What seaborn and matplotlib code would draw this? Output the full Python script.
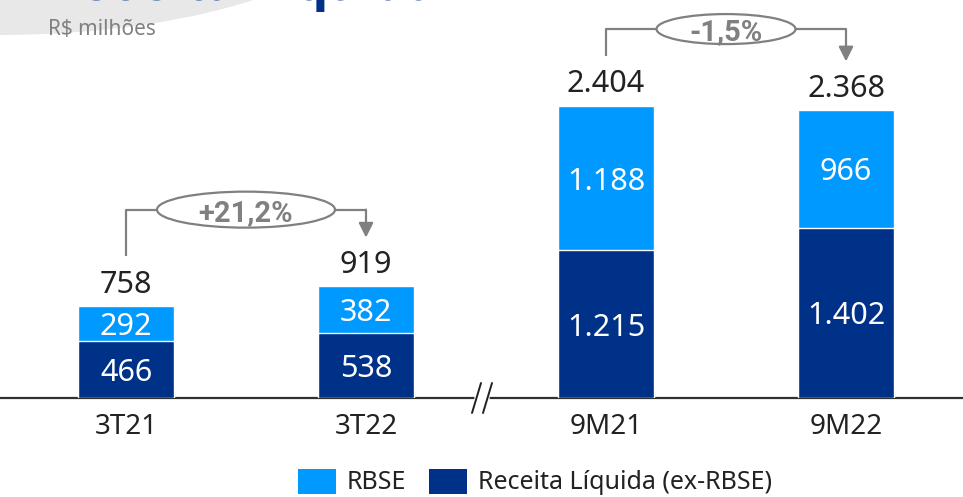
import matplotlib
matplotlib.use("Agg")
import matplotlib.pyplot as plt
import seaborn as sns
import pandas as pd
from matplotlib.patches import Ellipse, Patch

# ---------------- data ----------------
categories = ["3T21", "3T22", "9M21", "9M22"]
receita_ex_rbse = [466, 538, 1215, 1402]
rbse = [292, 382, 1188, 966]
totals = [758, 919, 2404, 2368]
total_labels = ["758", "919", "2.404", "2.368"]
rbse_labels = ["292", "382", "1.188", "966"]
receita_labels = ["466", "538", "1.215", "1.402"]
growth_pairs = [(0, 1), (2, 3)]
growth_labels = ["+21,2%", "-1,5%"]
legend_labels = ["RBSE", "Receita Líquida (ex-RBSE)"]
title_text = "Receita Líquida"
subtitle_text = "R$ milhões"

# ---------------- style ----------------
LIGHT = "#0099FF"
DARK = "#003189"
GREY = "#808080"
TXT = "#222222"
BOLD_FAMILY = ["Roboto", "Open Sans", "DejaVu Sans"]

sns.set_theme(style="white")
plt.rcParams["font.family"] = ["Noto Sans", "DejaVu Sans"]

df = pd.DataFrame({"cat": categories, "base": receita_ex_rbse,
                   "top": rbse, "total": totals})

W, H = 963, 497
fig = plt.figure(figsize=(W / 100, H / 100), dpi=100)
fig.patch.set_facecolor("white")

# background swoosh and cut title
fig.add_artist(Ellipse((0, 1 + 100 / H), 2 * 377 / W, 2 * 135 / H,
                       transform=fig.transFigure, facecolor="#e8e8e8",
                       edgecolor="none", zorder=0))
title = fig.text(43 / W, 1 - 0.5 / H, title_text, fontsize=30,
                 fontweight="bold", family=BOLD_FAMILY,
                 color="#003189", va="baseline", ha="left", zorder=1)
# fit title width to ~394 px
renderer = fig.canvas.get_renderer()
tw = title.get_window_extent(renderer).width
title.set_fontsize(30 * 394 / tw)
fig.text(48 / W, 1 - 35 / H, subtitle_text, fontsize=15, color=GREY,
         va="baseline", ha="left", zorder=1)

ax = fig.add_axes([0, 99 / H, 1, 398 / H])
ax.set_facecolor("none")

sns.barplot(data=df, x="cat", y="total", color=LIGHT, width=0.4,
            saturation=1, errorbar=None, ax=ax, zorder=2)
sns.barplot(data=df, x="cat", y="base", color=DARK, width=0.4,
            saturation=1, errorbar=None, ax=ax, zorder=3)

px_per_unit = 0.1216
ax.set_xlim(-126 / 240, (W - 126) / 240)
ax.set_ylim(0, 398 / px_per_unit)

for i in range(len(categories)):
    b = receita_ex_rbse[i]
    t = totals[i]
    ax.text(i, b / 2, receita_labels[i], ha="center", va="center_baseline",
            color="white", fontsize=22, zorder=4)
    ax.text(i, b + rbse[i] / 2, rbse_labels[i], ha="center",
            va="center_baseline", color="white", fontsize=22, zorder=4)
    ax.annotate(total_labels[i], (i, t), xytext=(0, 9.5),
                textcoords="offset points", ha="center", va="baseline",
                color=TXT, fontsize=22, zorder=4)

# growth brackets
ell_sizes = [(178, 36), (139, 30)]
for (a, b), lab, (ew, eh) in zip(growth_pairs, growth_labels, ell_sizes):
    y_start = totals[a] + 410
    y_br = max(totals[a], totals[b]) + 630
    y_tip = totals[b] + 400
    ax.plot([a, a, b, b], [y_start, y_br, y_br, y_br], color=GREY, lw=1.6,
            solid_capstyle="butt", zorder=5)
    ax.annotate("", xy=(b, y_tip), xytext=(b, y_br),
                arrowprops=dict(arrowstyle="-|>", color=GREY, lw=1.6,
                                mutation_scale=22, shrinkA=0, shrinkB=0),
                zorder=5)
    cx = (a + b) / 2
    ax.add_patch(Ellipse((cx, y_br), ew / 240, eh / px_per_unit,
                         facecolor="white", edgecolor=GREY, lw=1.6, zorder=6))
    ax.text(cx, y_br, lab, ha="center", va="center_baseline", color=GREY,
            fontsize=21, fontweight="bold", family=BOLD_FAMILY, zorder=7)

# axes styling
for s in ["top", "left", "right"]:
    ax.spines[s].set_visible(False)
ax.spines["bottom"].set_color("#303030")
ax.spines["bottom"].set_linewidth(1.6)
ax.set_yticks([])
ax.set_xlabel("")
ax.set_ylabel("")
ax.tick_params(axis="x", length=0, pad=11, labelsize=20, labelcolor=TXT)

# axis break mark
bx = (482 - 126) / 240
gap = 5.5 / 240
dx = 4.5 / 240
dy = 15 / px_per_unit
ax.plot([bx - gap + 0.004, bx + gap - 0.004], [0, 0], color="white", lw=4,
        clip_on=False, zorder=8)
for x0 in (bx - gap, bx + gap):
    ax.plot([x0 - dx, x0 + dx], [-dy, dy], color="#202020", lw=1.4,
            clip_on=False, zorder=9)

# legend
handles = [Patch(facecolor=LIGHT, edgecolor="none"),
           Patch(facecolor=DARK, edgecolor="none")]
fig.legend(handles, legend_labels, loc="center", ncol=2,
           bbox_to_anchor=(535 / W, 1 - 482 / H), frameon=False,
           fontsize=18, handlelength=1.52, handleheight=1.16,
           handletextpad=0.45, columnspacing=0.9, labelcolor=TXT)

fig.savefig("out.png", dpi=100)
